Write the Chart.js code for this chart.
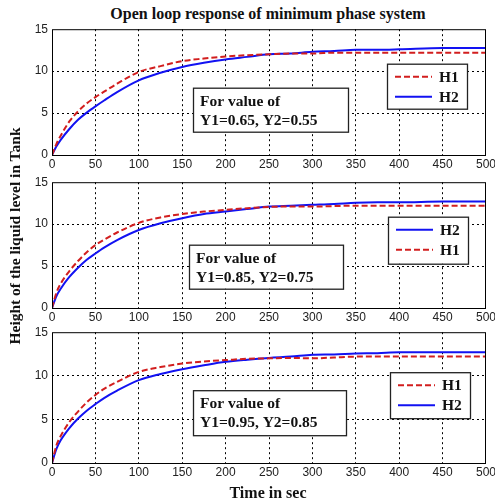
<!DOCTYPE html>
<html>
<head>
<meta charset="utf-8">
<script src="https://cdn.jsdelivr.net/npm/chart.js@4/dist/chart.umd.min.js"></script>
<style>
    html, body { margin: 0; padding: 0; background: #fff; width: 495px; height: 504px; overflow: hidden; position: relative; }
    canvas { position: absolute; left: 0; }
    .lbl { position: absolute; font-family: "Liberation Serif", "Times New Roman", serif; font-weight: bold; font-size: 16px; color: #111; white-space: nowrap; line-height: 18px; }
    #title { left: 68px; width: 400px; top: 5px; text-align: center; }
    #xTitle { left: 168px; width: 200px; top: 484px; text-align: center; }
    #yTitle { left: -135px; width: 300px; top: 227px; text-align: center; transform: rotate(-90deg); font-size: 15.5px; }
</style>
</head>
<body>
<div id="title" class="lbl">Open loop response of minimum phase system</div>
<canvas id="chart1"></canvas>
<canvas id="chart2"></canvas>
<canvas id="chart3"></canvas>
<div id="yTitle" class="lbl">Height of the liquid level in Tank</div>
<div id="xTitle" class="lbl">Time in sec</div>

<script>
// 시간축 (sec)
const timeSec = [0, 5, 10, 20, 30, 40, 50, 60, 75, 100, 125, 150, 175, 200, 225, 250, 275, 300, 325, 350, 375, 400, 450, 500];
const xTicks = [0, 50, 100, 150, 200, 250, 300, 350, 400, 450, 500];
const yTicks = [0, 5, 10, 15];

// Y1=0.65, Y2=0.55
const h1Case1 = [0, 1.3, 2.3, 4.0, 5.2, 6.15, 6.9, 7.55, 8.5, 9.9, 10.6, 11.2, 11.5, 11.75, 11.9, 12.0, 12.1, 12.1, 12.2, 12.2, 12.2, 12.2, 12.2, 12.2];
const h2Case1 = [0, 1.0, 1.8, 3.1, 4.2, 5.05, 5.8, 6.5, 7.5, 8.9, 9.8, 10.5, 11.0, 11.4, 11.7, 12.0, 12.1, 12.3, 12.4, 12.55, 12.55, 12.6, 12.75, 12.75];
// Y1=0.85, Y2=0.75
const h1Case2 = [0, 1.8, 2.9, 4.4, 5.6, 6.65, 7.5, 8.15, 9.0, 10.15, 10.8, 11.2, 11.5, 11.7, 11.9, 12.05, 12.1, 12.1, 12.15, 12.2, 12.2, 12.2, 12.2, 12.2];
const h2Case2 = [0, 1.4, 2.3, 3.7, 4.8, 5.75, 6.5, 7.2, 8.1, 9.3, 10.1, 10.7, 11.2, 11.5, 11.8, 12.1, 12.2, 12.3, 12.4, 12.55, 12.6, 12.6, 12.7, 12.7];
// Y1=0.95, Y2=0.85
const h1Case3 = [0, 2.0, 3.1, 4.7, 5.9, 6.95, 7.8, 8.5, 9.3, 10.45, 11.0, 11.4, 11.65, 11.8, 11.95, 12.0, 12.05, 12.0, 12.1, 12.2, 12.2, 12.2, 12.2, 12.2];
const h2Case3 = [0, 1.6, 2.6, 4.0, 5.1, 6.0, 6.75, 7.45, 8.3, 9.5, 10.2, 10.75, 11.2, 11.6, 11.85, 12.05, 12.2, 12.4, 12.45, 12.55, 12.6, 12.7, 12.7, 12.7];

const noteCase1 = ['For value of', 'Y1=0.65, Y2=0.55'];
const noteCase2 = ['For value of', 'Y1=0.85, Y2=0.75'];
const noteCase3 = ['For value of', 'Y1=0.95, Y2=0.85'];

const SERIF = '"Liberation Serif", "Times New Roman", serif';
const SANS = '"Liberation Sans", Arial, sans-serif';
const colors = { h1: '#d21e1e', h2: '#1212f2' };

// 테두리, 범례, 설명 박스
const panelDecor = {
    id: 'panelDecor',
    afterDraw(chart, args, opts) {
        const { ctx, chartArea: a } = chart;
        ctx.save();
        ctx.setLineDash([]);
        ctx.strokeStyle = '#000';
        ctx.lineWidth = 1;
        ctx.strokeRect(a.left + 0.5, a.top + 0.5, a.width - 1, a.height);

        const drawBox = (b) => {
            ctx.setLineDash([]);
            ctx.fillStyle = '#fff';
            ctx.fillRect(a.left + b.x, a.top + b.y, b.w, b.h);
            ctx.strokeStyle = '#222';
            ctx.lineWidth = 1.3;
            ctx.strokeRect(a.left + b.x + 0.5, a.top + b.y + 0.5, b.w, b.h);
        };

        ctx.font = `bold 15.5px ${SERIF}`;
        ctx.textBaseline = 'middle';
        ctx.textAlign = 'left';

        const n = opts.noteBox;
        drawBox(n);
        ctx.fillStyle = '#111';
        opts.note.forEach((line, i) => {
            ctx.fillText(line, a.left + n.x + 7, a.top + n.y + 14 + i * 19);
        });

        const l = opts.legendBox;
        drawBox(l);
        opts.legendOrder.forEach((label, i) => {
            const ds = chart.data.datasets.find(d => d.label === label);
            const y = a.top + l.y + 13 + i * 20;
            ctx.strokeStyle = ds.borderColor;
            ctx.lineWidth = ds.borderWidth;
            ctx.setLineDash(ds.borderDash || []);
            ctx.beginPath();
            ctx.moveTo(a.left + l.x + 8, y);
            ctx.lineTo(a.left + l.x + 45, y);
            ctx.stroke();
            ctx.fillStyle = '#111';
            ctx.fillText(label, a.left + l.x + 52, y + 1);
        });
        ctx.restore();
    }
};

const toPoints = (ys) => timeSec.map((t, i) => ({ x: t, y: ys[i] }));

function buildChart(panel) {
    const canvas = document.getElementById(panel.id);
    canvas.width = 510;
    canvas.height = panel.plotH + 10 + 16;
    canvas.style.top = (panel.plotTop - 10) + 'px';

    const gridColor = (lo, hi) => (c) => (c.tick && (c.tick.value === lo || c.tick.value === hi)) ? 'rgba(0,0,0,0)' : '#000';

    return new Chart(canvas, {
        type: 'line',
        data: {
            datasets: [
                { label: 'H1', data: toPoints(panel.h1), borderColor: colors.h1, borderWidth: 2, borderDash: [6, 3], pointRadius: 0, cubicInterpolationMode: 'monotone', fill: false },
                { label: 'H2', data: toPoints(panel.h2), borderColor: colors.h2, borderWidth: 2, pointRadius: 0, cubicInterpolationMode: 'monotone', fill: false }
            ]
        },
        options: {
            responsive: false,
            animation: false,
            devicePixelRatio: 1,
            layout: { padding: { top: 10, right: 24, left: 0, bottom: 0 } },
            plugins: {
                legend: { display: false },
                tooltip: { enabled: false },
                panelDecor: { note: panel.note, noteBox: panel.noteBox, legendBox: panel.legendBox, legendOrder: panel.legendOrder }
            },
            scales: {
                x: {
                    type: 'linear', min: 0, max: 500,
                    afterBuildTicks: s => { s.ticks = xTicks.map(v => ({ value: v })); },
                    afterFit: s => { s.height = 16; },
                    ticks: { color: '#222', font: { family: SANS, size: 12 }, padding: 2, maxRotation: 0, autoSkip: false },
                    grid: { color: gridColor(0, 500), lineWidth: 1, drawTicks: false },
                    border: { display: false, dash: [2, 3] }
                },
                y: {
                    min: 0, max: 15,
                    afterBuildTicks: s => { s.ticks = yTicks.map(v => ({ value: v })); },
                    afterFit: s => { s.width = 52; },
                    ticks: { color: '#222', font: { family: SANS, size: 12 }, padding: 4 },
                    grid: { color: gridColor(0, 15), lineWidth: 1, drawTicks: false },
                    border: { display: false, dash: [2, 3] }
                }
            }
        },
        plugins: [panelDecor]
    });
}

buildChart({ id: 'chart1', plotTop: 27.5, plotH: 127.5, h1: h1Case1, h2: h2Case1, note: noteCase1,
    noteBox: { x: 141, y: 58.5, w: 155, h: 44 }, legendBox: { x: 335, y: 34.5, w: 80, h: 45 }, legendOrder: ['H1', 'H2'] });
buildChart({ id: 'chart2', plotTop: 180.5, plotH: 127.5, h1: h1Case2, h2: h2Case2, note: noteCase2,
    noteBox: { x: 137, y: 62.5, w: 154, h: 44 }, legendBox: { x: 336, y: 34.5, w: 80, h: 47 }, legendOrder: ['H2', 'H1'] });
buildChart({ id: 'chart3', plotTop: 331, plotH: 132.5, h1: h1Case3, h2: h2Case3, note: noteCase3,
    noteBox: { x: 141, y: 58, w: 153, h: 45 }, legendBox: { x: 338, y: 40, w: 80, h: 46 }, legendOrder: ['H1', 'H2'] });
</script>
</body>
</html>
